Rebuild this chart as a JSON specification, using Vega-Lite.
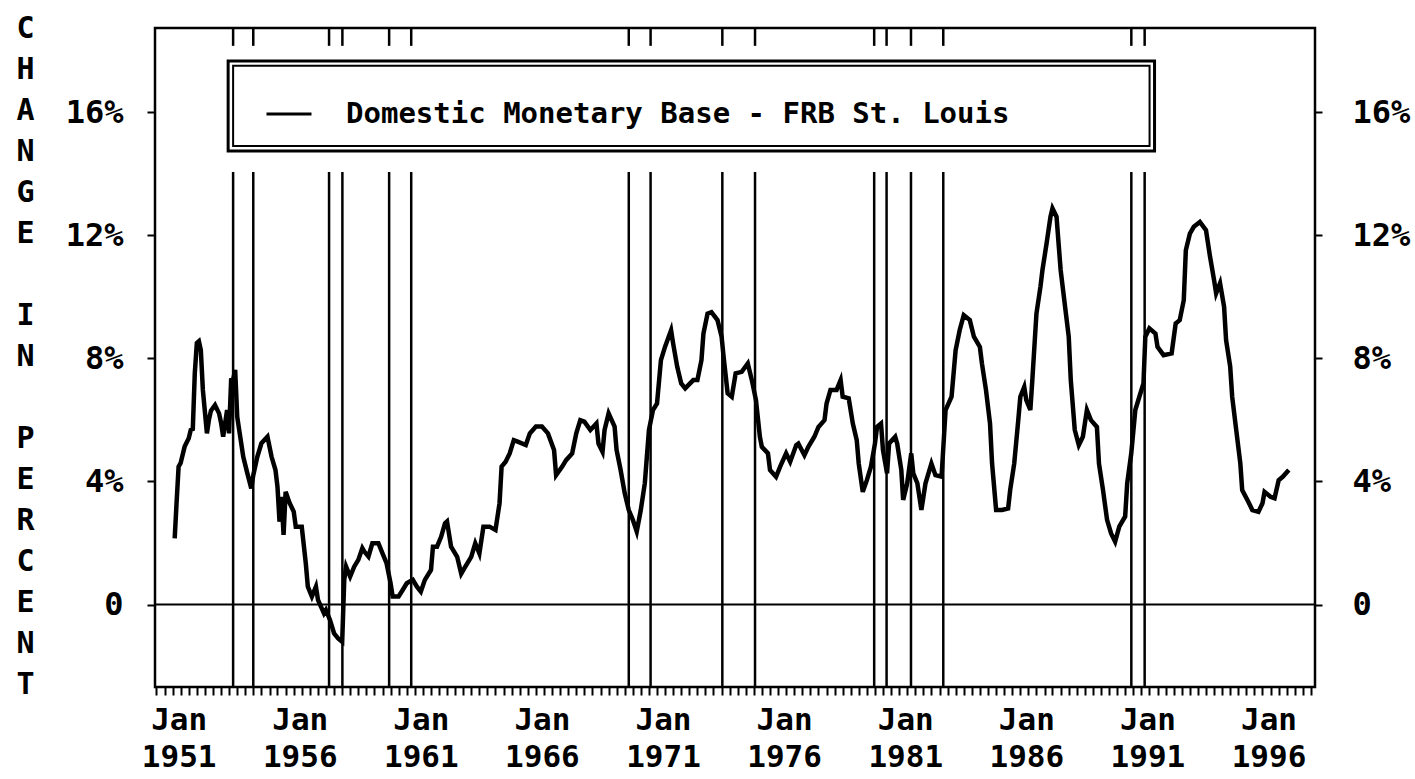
{
  "$schema": "https://vega.github.io/schema/vega-lite/v6.json",
  "width": 1160,
  "height": 659,
  "autosize": {"type": "none"},
  "padding": {"left": 155, "top": 28, "right": 100, "bottom": 92},
  "background": "white",
  "datasets": {
    "base": [
      {"date": "1951-02-01", "value": 2.15}, {"date": "1951-03-01", "value": 3.29}, {"date": "1951-04-01", "value": 4.48},
      {"date": "1951-05-01", "value": 4.59}, {"date": "1951-07-01", "value": 5.13}, {"date": "1951-09-01", "value": 5.40},
      {"date": "1951-10-01", "value": 5.67}, {"date": "1951-11-01", "value": 5.70}, {"date": "1951-12-01", "value": 7.51},
      {"date": "1952-01-01", "value": 8.49}, {"date": "1952-02-01", "value": 8.55}, {"date": "1952-03-01", "value": 8.27},
      {"date": "1952-04-01", "value": 6.97}, {"date": "1952-06-01", "value": 5.56}, {"date": "1952-07-01", "value": 6.0},
      {"date": "1952-08-01", "value": 6.3}, {"date": "1952-10-01", "value": 6.48}, {"date": "1952-12-01", "value": 6.21},
      {"date": "1953-01-01", "value": 5.9}, {"date": "1953-02-01", "value": 5.45}, {"date": "1953-04-01", "value": 6.32},
      {"date": "1953-05-01", "value": 5.56}, {"date": "1953-06-01", "value": 7.29}, {"date": "1953-07-01", "value": 7.3},
      {"date": "1953-08-01", "value": 7.62}, {"date": "1953-09-01", "value": 6.1}, {"date": "1953-10-01", "value": 5.67},
      {"date": "1953-12-01", "value": 4.8}, {"date": "1954-02-01", "value": 4.26}, {"date": "1954-04-01", "value": 3.77},
      {"date": "1954-05-01", "value": 4.2}, {"date": "1954-07-01", "value": 4.8}, {"date": "1954-09-01", "value": 5.24},
      {"date": "1954-12-01", "value": 5.45}, {"date": "1955-02-01", "value": 4.8}, {"date": "1955-04-01", "value": 4.37},
      {"date": "1955-05-01", "value": 3.83}, {"date": "1955-06-01", "value": 2.69}, {"date": "1955-07-01", "value": 3.5},
      {"date": "1955-08-01", "value": 2.26}, {"date": "1955-09-01", "value": 3.66}, {"date": "1955-11-01", "value": 3.29},
      {"date": "1956-01-01", "value": 3.02}, {"date": "1956-02-01", "value": 2.53}, {"date": "1956-05-01", "value": 2.53},
      {"date": "1956-07-01", "value": 1.34}, {"date": "1956-08-01", "value": 0.58}, {"date": "1956-10-01", "value": 0.26},
      {"date": "1956-12-01", "value": 0.58}, {"date": "1957-01-01", "value": 0.15}, {"date": "1957-04-01", "value": -0.29},
      {"date": "1957-05-01", "value": -0.18}, {"date": "1957-07-01", "value": -0.5}, {"date": "1957-09-01", "value": -0.94},
      {"date": "1957-11-01", "value": -1.1}, {"date": "1958-01-01", "value": -1.21}, {"date": "1958-02-01", "value": 0.8},
      {"date": "1958-03-01", "value": 1.23}, {"date": "1958-05-01", "value": 0.91}, {"date": "1958-07-01", "value": 1.23},
      {"date": "1958-09-01", "value": 1.45}, {"date": "1958-11-01", "value": 1.83}, {"date": "1958-12-01", "value": 1.72},
      {"date": "1959-02-01", "value": 1.56}, {"date": "1959-04-01", "value": 1.99}, {"date": "1959-07-01", "value": 1.99},
      {"date": "1959-09-01", "value": 1.66}, {"date": "1959-11-01", "value": 1.34}, {"date": "1960-01-01", "value": 0.69},
      {"date": "1960-02-01", "value": 0.26}, {"date": "1960-05-01", "value": 0.26}, {"date": "1960-07-01", "value": 0.47},
      {"date": "1960-09-01", "value": 0.69}, {"date": "1960-12-01", "value": 0.8}, {"date": "1961-02-01", "value": 0.58},
      {"date": "1961-04-01", "value": 0.42}, {"date": "1961-06-01", "value": 0.8}, {"date": "1961-09-01", "value": 1.12},
      {"date": "1961-10-01", "value": 1.88}, {"date": "1961-12-01", "value": 1.88}, {"date": "1962-02-01", "value": 2.2},
      {"date": "1962-04-01", "value": 2.64}, {"date": "1962-05-01", "value": 2.7}, {"date": "1962-07-01", "value": 1.88},
      {"date": "1962-10-01", "value": 1.55}, {"date": "1962-12-01", "value": 1.0}, {"date": "1963-02-01", "value": 1.23},
      {"date": "1963-05-01", "value": 1.55}, {"date": "1963-07-01", "value": 1.99}, {"date": "1963-09-01", "value": 1.66},
      {"date": "1963-11-01", "value": 2.53}, {"date": "1964-02-01", "value": 2.53}, {"date": "1964-05-01", "value": 2.42},
      {"date": "1964-07-01", "value": 3.29}, {"date": "1964-08-01", "value": 4.48}, {"date": "1964-10-01", "value": 4.64},
      {"date": "1964-12-01", "value": 4.91}, {"date": "1965-02-01", "value": 5.34}, {"date": "1965-04-01", "value": 5.29},
      {"date": "1965-08-01", "value": 5.18}, {"date": "1965-10-01", "value": 5.56}, {"date": "1966-01-01", "value": 5.78},
      {"date": "1966-04-01", "value": 5.78}, {"date": "1966-07-01", "value": 5.56}, {"date": "1966-10-01", "value": 5.02},
      {"date": "1966-11-01", "value": 4.2}, {"date": "1967-02-01", "value": 4.48}, {"date": "1967-04-01", "value": 4.69},
      {"date": "1967-07-01", "value": 4.91}, {"date": "1967-09-01", "value": 5.56}, {"date": "1967-11-01", "value": 5.99},
      {"date": "1968-01-01", "value": 5.94}, {"date": "1968-04-01", "value": 5.67}, {"date": "1968-07-01", "value": 5.88},
      {"date": "1968-08-01", "value": 5.23}, {"date": "1968-10-01", "value": 4.96}, {"date": "1968-11-01", "value": 5.67},
      {"date": "1969-01-01", "value": 6.21}, {"date": "1969-04-01", "value": 5.78}, {"date": "1969-05-01", "value": 5.02},
      {"date": "1969-07-01", "value": 4.37}, {"date": "1969-09-01", "value": 3.61}, {"date": "1969-11-01", "value": 3.07},
      {"date": "1970-01-01", "value": 2.75}, {"date": "1970-03-01", "value": 2.37}, {"date": "1970-05-01", "value": 3.07},
      {"date": "1970-07-01", "value": 3.94}, {"date": "1970-09-01", "value": 5.67}, {"date": "1970-11-01", "value": 6.32},
      {"date": "1971-01-01", "value": 6.53}, {"date": "1971-03-01", "value": 7.94}, {"date": "1971-05-01", "value": 8.37},
      {"date": "1971-08-01", "value": 8.91}, {"date": "1971-09-01", "value": 8.48}, {"date": "1971-11-01", "value": 7.73},
      {"date": "1972-01-01", "value": 7.18}, {"date": "1972-03-01", "value": 7.02}, {"date": "1972-07-01", "value": 7.29},
      {"date": "1972-09-01", "value": 7.29}, {"date": "1972-11-01", "value": 7.94}, {"date": "1972-12-01", "value": 8.8},
      {"date": "1973-02-01", "value": 9.45}, {"date": "1973-04-01", "value": 9.5}, {"date": "1973-07-01", "value": 9.24},
      {"date": "1973-09-01", "value": 8.7}, {"date": "1973-10-01", "value": 8.05}, {"date": "1973-12-01", "value": 6.86},
      {"date": "1974-02-01", "value": 6.75}, {"date": "1974-04-01", "value": 7.51}, {"date": "1974-07-01", "value": 7.56},
      {"date": "1974-10-01", "value": 7.83}, {"date": "1974-12-01", "value": 7.29}, {"date": "1975-02-01", "value": 6.64},
      {"date": "1975-04-01", "value": 5.45}, {"date": "1975-05-01", "value": 5.12}, {"date": "1975-08-01", "value": 4.91},
      {"date": "1975-09-01", "value": 4.37}, {"date": "1975-12-01", "value": 4.15}, {"date": "1976-02-01", "value": 4.48},
      {"date": "1976-05-01", "value": 4.91}, {"date": "1976-07-01", "value": 4.64}, {"date": "1976-10-01", "value": 5.18},
      {"date": "1976-11-01", "value": 5.23}, {"date": "1977-02-01", "value": 4.85}, {"date": "1977-04-01", "value": 5.12},
      {"date": "1977-07-01", "value": 5.45}, {"date": "1977-09-01", "value": 5.77}, {"date": "1977-12-01", "value": 5.99},
      {"date": "1978-01-01", "value": 6.53}, {"date": "1978-03-01", "value": 6.97}, {"date": "1978-06-01", "value": 6.97},
      {"date": "1978-08-01", "value": 7.29}, {"date": "1978-09-01", "value": 6.75}, {"date": "1978-12-01", "value": 6.7},
      {"date": "1979-02-01", "value": 5.88}, {"date": "1979-04-01", "value": 5.34}, {"date": "1979-05-01", "value": 4.58},
      {"date": "1979-07-01", "value": 3.66}, {"date": "1979-09-01", "value": 4.04}, {"date": "1979-11-01", "value": 4.48},
      {"date": "1980-01-01", "value": 5.23}, {"date": "1980-02-01", "value": 5.77}, {"date": "1980-04-01", "value": 5.88},
      {"date": "1980-05-01", "value": 5.01}, {"date": "1980-07-01", "value": 4.26}, {"date": "1980-08-01", "value": 5.23},
      {"date": "1980-11-01", "value": 5.45}, {"date": "1980-12-01", "value": 5.23}, {"date": "1981-02-01", "value": 4.37},
      {"date": "1981-03-01", "value": 3.4}, {"date": "1981-05-01", "value": 3.94}, {"date": "1981-07-01", "value": 4.91},
      {"date": "1981-08-01", "value": 4.26}, {"date": "1981-10-01", "value": 3.94}, {"date": "1981-12-01", "value": 3.07},
      {"date": "1982-02-01", "value": 3.94}, {"date": "1982-05-01", "value": 4.58}, {"date": "1982-07-01", "value": 4.2},
      {"date": "1982-10-01", "value": 4.15}, {"date": "1982-12-01", "value": 6.32}, {"date": "1983-03-01", "value": 6.75},
      {"date": "1983-05-01", "value": 8.26}, {"date": "1983-07-01", "value": 8.91}, {"date": "1983-09-01", "value": 9.4},
      {"date": "1983-12-01", "value": 9.24}, {"date": "1984-02-01", "value": 8.7}, {"date": "1984-05-01", "value": 8.37},
      {"date": "1984-06-01", "value": 7.83}, {"date": "1984-08-01", "value": 6.97}, {"date": "1984-10-01", "value": 5.88},
      {"date": "1984-11-01", "value": 4.58}, {"date": "1985-01-01", "value": 3.07}, {"date": "1985-04-01", "value": 3.07},
      {"date": "1985-07-01", "value": 3.12}, {"date": "1985-08-01", "value": 3.72}, {"date": "1985-10-01", "value": 4.58},
      {"date": "1985-12-01", "value": 5.99}, {"date": "1986-01-01", "value": 6.75}, {"date": "1986-03-01", "value": 7.07},
      {"date": "1986-04-01", "value": 6.64}, {"date": "1986-06-01", "value": 6.32}, {"date": "1986-07-01", "value": 7.29},
      {"date": "1986-09-01", "value": 9.45}, {"date": "1986-11-01", "value": 10.33}, {"date": "1986-12-01", "value": 10.87},
      {"date": "1987-02-01", "value": 11.73}, {"date": "1987-04-01", "value": 12.6}, {"date": "1987-05-01", "value": 12.87},
      {"date": "1987-07-01", "value": 12.6}, {"date": "1987-08-01", "value": 11.73}, {"date": "1987-09-01", "value": 10.87},
      {"date": "1987-11-01", "value": 9.78}, {"date": "1988-01-01", "value": 8.7}, {"date": "1988-02-01", "value": 7.29},
      {"date": "1988-04-01", "value": 5.67}, {"date": "1988-06-01", "value": 5.18}, {"date": "1988-08-01", "value": 5.45},
      {"date": "1988-10-01", "value": 6.32}, {"date": "1988-12-01", "value": 5.99}, {"date": "1989-03-01", "value": 5.77},
      {"date": "1989-04-01", "value": 4.58}, {"date": "1989-06-01", "value": 3.72}, {"date": "1989-08-01", "value": 2.75},
      {"date": "1989-10-01", "value": 2.31}, {"date": "1989-12-01", "value": 2.04}, {"date": "1990-02-01", "value": 2.53},
      {"date": "1990-05-01", "value": 2.86}, {"date": "1990-06-01", "value": 3.94}, {"date": "1990-08-01", "value": 4.91},
      {"date": "1990-10-01", "value": 6.32}, {"date": "1990-12-01", "value": 6.75}, {"date": "1991-02-01", "value": 7.18},
      {"date": "1991-03-01", "value": 8.7}, {"date": "1991-05-01", "value": 8.97}, {"date": "1991-08-01", "value": 8.8},
      {"date": "1991-09-01", "value": 8.37}, {"date": "1991-12-01", "value": 8.1}, {"date": "1992-04-01", "value": 8.16},
      {"date": "1992-06-01", "value": 9.13}, {"date": "1992-08-01", "value": 9.24}, {"date": "1992-10-01", "value": 9.89},
      {"date": "1992-11-01", "value": 11.51}, {"date": "1993-01-01", "value": 12.05}, {"date": "1993-03-01", "value": 12.27},
      {"date": "1993-06-01", "value": 12.43}, {"date": "1993-09-01", "value": 12.16}, {"date": "1993-11-01", "value": 11.3},
      {"date": "1994-01-01", "value": 10.54}, {"date": "1994-02-01", "value": 10.11}, {"date": "1994-04-01", "value": 10.44},
      {"date": "1994-06-01", "value": 9.67}, {"date": "1994-07-01", "value": 8.59}, {"date": "1994-09-01", "value": 7.73},
      {"date": "1994-10-01", "value": 6.75}, {"date": "1994-12-01", "value": 5.67}, {"date": "1995-02-01", "value": 4.58},
      {"date": "1995-03-01", "value": 3.72}, {"date": "1995-06-01", "value": 3.34}, {"date": "1995-08-01", "value": 3.07},
      {"date": "1995-11-01", "value": 3.01}, {"date": "1996-01-01", "value": 3.29}, {"date": "1996-02-01", "value": 3.66},
      {"date": "1996-05-01", "value": 3.5}, {"date": "1996-07-01", "value": 3.45}, {"date": "1996-09-01", "value": 4.04},
      {"date": "1996-11-01", "value": 4.15}, {"date": "1997-02-01", "value": 4.37}
    ],
    "recessions": [
      {"date": "1953-07-01"}, {"date": "1954-05-01"}, {"date": "1957-06-17"}, {"date": "1958-01-04"},
      {"date": "1959-12-10"}, {"date": "1960-11-07"}, {"date": "1969-11-01"}, {"date": "1970-09-26"},
      {"date": "1973-09-12"}, {"date": "1975-01-18"}, {"date": "1979-12-20"}, {"date": "1980-06-24"},
      {"date": "1981-06-27"}, {"date": "1982-10-27"}, {"date": "1990-08-02"}, {"date": "1991-02-19"}
    ]
  },
  "layer": [
    {
      "data": {"values": [{}]},
      "mark": {"type": "rect", "fill": "white", "stroke": "black", "strokeWidth": 3},
      "encoding": {
        "x": {"datum": {"year": 1953, "month": 4, "date": 17}, "type": "temporal", "axis": null},
        "x2": {"datum": {"year": 1991, "month": 7, "date": 18}},
        "y": {"datum": 17.66, "type": "quantitative", "axis": null},
        "y2": {"datum": 14.73}
      }
    },
    {
      "data": {"values": [{}]},
      "mark": {"type": "rect", "fillOpacity": 0, "stroke": "black", "strokeWidth": 2},
      "encoding": {
        "x": {"datum": {"year": 1953, "month": 7, "date": 1}, "type": "temporal", "axis": null},
        "x2": {"datum": {"year": 1991, "month": 5, "date": 4}},
        "y": {"datum": 17.5, "type": "quantitative", "axis": null},
        "y2": {"datum": 14.9}
      }
    },
    {
      "data": {"name": "recessions"},
      "mark": {"type": "rule", "color": "black", "strokeWidth": 2.5},
      "encoding": {
        "x": {"field": "date", "type": "temporal", "axis": null},
        "y": {"datum": -2.68, "type": "quantitative", "axis": null},
        "y2": {"datum": 14.05}
      }
    },
    {
      "data": {"name": "recessions"},
      "mark": {"type": "rule", "color": "black", "strokeWidth": 2.5},
      "encoding": {
        "x": {"field": "date", "type": "temporal", "axis": null},
        "y": {"datum": 18.15, "type": "quantitative", "axis": null},
        "y2": {"datum": 18.73}
      }
    },
    {
      "data": {"values": [{}]},
      "mark": {"type": "rule", "color": "black", "strokeWidth": 2},
      "encoding": {
        "y": {
          "datum": 0,
          "type": "quantitative",
          "axis": {
            "orient": "right",
            "values": [0, 4, 8, 12, 16],
            "tickSize": 7,
            "labelPadding": 30,
            "labelAlign": "left",
            "labelExpr": "datum.value == 0 ? '\u00a00' : datum.value + '%'",
            "title": null
          }
        }
      }
    },
    {
      "data": {"name": "base"},
      "mark": {"type": "line", "strokeWidth": 4.5, "strokeJoin": "miter"},
      "encoding": {
        "x": {
          "field": "date",
          "type": "temporal",
          "scale": {"domain": [{"year": 1950, "month": 4, "date": 10}, {"year": 1998, "month": 3, "date": 3}], "nice": false},
          "axis": {
            "title": null,
            "tickCount": {"interval": "month", "step": 4},
            "labelExpr": "month(datum.value) == 0 && (year(datum.value) - 1951) % 5 == 0 ? ['Jan\u00a0', '' + year(datum.value)] : ''",
            "labelOverlap": false,
            "labelFlush": false,
            "labelBound": false,
            "tickSize": 8,
            "labelPadding": 10,
            "labelOffset": 6,
            "labelLineHeight": 37,
            "labelFontSize": 31,
            "labelBaseline": "top"
          }
        },
        "y": {
          "field": "value",
          "type": "quantitative",
          "scale": {"domain": [-2.68, 18.73], "nice": false, "zero": false},
          "axis": {
            "orient": "left",
            "values": [0, 4, 8, 12, 16],
            "tickSize": 8,
            "labelPadding": 24,
            "labelExpr": "datum.value == 0 ? '0' : datum.value + '%'",
            "title": ["C", "H", "A", "N", "G", "E", "\u2800", "I", "N", "\u2800", "P", "E", "R", "C", "E", "N", "T"],
            "titleAngle": 0,
            "titleX": -130,
            "titleY": 0,
            "titleAlign": "center",
            "titleBaseline": "middle",
            "titleFontSize": 30,
            "titleLineHeight": 41
          }
        },
        "color": {
          "datum": "Domestic Monetary Base - FRB St. Louis",
          "scale": {"range": ["black"]},
          "legend": {
            "orient": "none",
            "legendX": 110,
            "legendY": 62,
            "title": null,
            "symbolType": "stroke",
            "symbolStrokeWidth": 3,
            "symbolSize": 2025,
            "labelFont": "DejaVu Sans Mono",
            "labelFontWeight": "bold",
            "labelFontSize": 29,
            "labelOffset": 33,
            "labelLimit": 1200,
            "padding": 0
          }
        }
      }
    }
  ],
  "resolve": {"axis": {"x": "independent", "y": "independent"}},
  "config": {
    "font": "DejaVu Sans Mono",
    "view": {"stroke": "black", "strokeWidth": 2.5},
    "axis": {
      "domain": false,
      "grid": false,
      "tickColor": "black",
      "tickWidth": 2,
      "labelColor": "black",
      "labelFont": "DejaVu Sans Mono",
      "labelFontWeight": "bold",
      "labelFontSize": 32,
      "titleColor": "black",
      "titleFont": "DejaVu Sans Mono",
      "titleFontWeight": "bold"
    },
    "legend": {"labelColor": "black"}
  }
}
